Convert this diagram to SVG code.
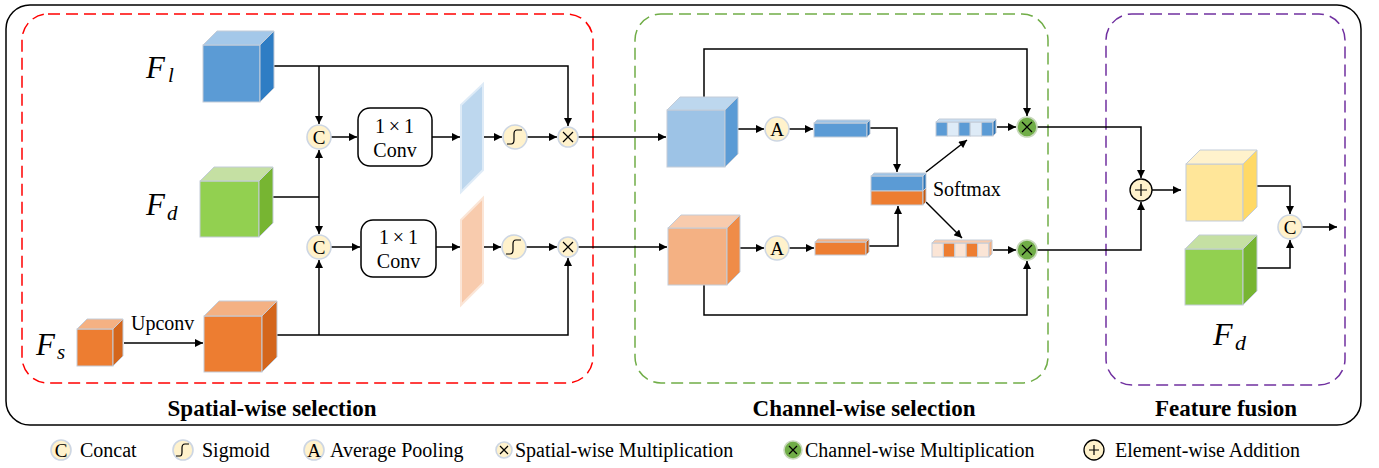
<svg xmlns="http://www.w3.org/2000/svg" width="1379" height="468" viewBox="0 0 1379 468">
<defs>
<style>
.ln{fill:none;stroke:#000;stroke-width:1.5}
.ar{marker-end:url(#ah)}
.op{fill:#FFF2CC;stroke:#CDD6E3;stroke-width:1.6}
.gm{fill:#70AD47;stroke:#C8D8BC;stroke-width:1.6}
.xx{fill:none;stroke:#000;stroke-width:1.2}
.cb{stroke:#C3CCD8;stroke-width:1}
.t{font-family:"Liberation Serif",serif;font-size:20px;fill:#000}
.b{font-family:"Liberation Serif",serif;font-size:23px;font-weight:bold;fill:#000;text-anchor:middle}
.fi{font-family:"Liberation Serif",serif;font-style:italic;fill:#000}
.ct{font-family:"Liberation Serif",serif;font-size:19px;fill:#000;text-anchor:middle}
.box{fill:none;stroke-width:1.5;stroke-dasharray:12 6}
</style>
<marker id="ah" viewBox="0 0 10 10" refX="10" refY="5" markerWidth="9" markerHeight="8" markerUnits="userSpaceOnUse" orient="auto"><path d="M0,0 L10,5 L0,10 z" fill="#000"/></marker>
</defs>
<rect x="0" y="0" width="1379" height="468" fill="#fff"/>

<g id="frames">
<rect x="6" y="5" width="1355" height="420" rx="24" fill="none" stroke="#000" stroke-width="1.5"/>
<rect class="box" x="22" y="14" width="571" height="369" rx="26" stroke="#FF0000"/>
<rect class="box" x="635" y="14" width="413" height="369" rx="26" stroke="#70AD47"/>
<rect class="box" x="1106" y="14" width="239" height="371" rx="26" stroke="#7030A0"/>
<text class="b" x="272" y="416">Spatial-wise selection</text>
<text class="b" x="864" y="416">Channel-wise selection</text>
<text class="b" x="1226" y="416">Feature fusion</text>
</g>

<g id="connectors">
<path class="ln ar" d="M274 66 H568 V126"/>
<path class="ln ar" d="M319 66 V124"/>
<path class="ln" d="M273 197 H319"/>
<path class="ln ar" d="M319 197 V150"/>
<path class="ln ar" d="M319 197 V234"/>
<path class="ln ar" d="M277 335 H568 V258"/>
<path class="ln ar" d="M319 335 V260"/>
<path class="ln ar" d="M124 343 H203"/>
<path class="ln ar" d="M331 137 H357"/>
<path class="ln ar" d="M432 137 H460"/>
<path class="ln ar" d="M484 137 H502"/>
<path class="ln ar" d="M527 137 H557"/>
<path class="ln ar" d="M578 137 H666"/>
<path class="ln ar" d="M331 247 H360"/>
<path class="ln ar" d="M436 247 H460"/>
<path class="ln ar" d="M484 247 H501"/>
<path class="ln ar" d="M526 247 H557"/>
<path class="ln ar" d="M578 247 H667"/>
<path class="ln ar" d="M704 97 V49 H1027 V116"/>
<path class="ln ar" d="M738 129 H764"/>
<path class="ln ar" d="M789 129 H813"/>
<path class="ln ar" d="M870 128 H897 V172"/>
<path class="ln ar" d="M740 248 H764"/>
<path class="ln ar" d="M789 248 H814"/>
<path class="ln ar" d="M869 246 H898 V206"/>
<path class="ln ar" d="M926 172 L967 140"/>
<path class="ln ar" d="M926 202 L962 238"/>
<path class="ln ar" d="M997 127 H1016"/>
<path class="ln ar" d="M993 250 H1016"/>
<path class="ln ar" d="M704 285 V315 H1027 V261"/>
<path class="ln ar" d="M1037 127 H1141 V178"/>
<path class="ln ar" d="M1037 250 H1141 V202"/>
<path class="ln ar" d="M1152 190 H1181"/>
<path class="ln ar" d="M1257 186 H1290 V214"/>
<path class="ln ar" d="M1257 268 H1290 V240"/>
<path class="ln ar" d="M1302 227 H1337"/>
</g>

<g id="Fl">
<rect class="cb" x="203" y="45" width="57" height="57" fill="#5B9BD5"/>
<polygon class="cb" points="203,45 217,31 274,31 260,45" fill="#A4C8E9"/>
<polygon class="cb" points="260,45 274,31 274,88 260,102" fill="#2E7DC4"/>
<text class="fi" x="146" y="78" font-size="31">F</text><text class="fi" x="168" y="82" font-size="21">l</text>
</g>
<g id="Fd">
<rect class="cb" x="200" y="181" width="59" height="56" fill="#92D050"/>
<polygon class="cb" points="200,181 214,167 273,167 259,181" fill="#C5E0A3"/>
<polygon class="cb" points="259,181 273,167 273,223 259,237" fill="#77B532"/>
<text class="fi" x="146" y="215" font-size="31">F</text><text class="fi" x="167" y="220" font-size="21">d</text>
</g>
<g id="Fs">
<rect class="cb" x="77" y="329" width="36" height="37" fill="#ED7D31"/>
<polygon class="cb" points="77,329 87,319 123,319 113,329" fill="#F4B183"/>
<polygon class="cb" points="113,329 123,319 123,356 113,366" fill="#D4661C"/>
<text class="fi" x="36" y="355" font-size="31">F</text><text class="fi" x="57" y="359" font-size="21">s</text>
</g>
<g id="upconv-label"><text class="t" x="131" y="330">Upconv</text></g>
<g id="Fup">
<rect class="cb" x="204" y="316" width="58" height="56" fill="#ED7D31"/>
<polygon class="cb" points="204,316 219,301 277,301 262,316" fill="#F4B183"/>
<polygon class="cb" points="262,316 277,301 277,357 262,372" fill="#D4661C"/>
</g>
<g id="C1"><circle class="op" cx="319" cy="137" r="12"/><text class="ct" x="319" y="143.5">C</text></g>
<g id="C2"><circle class="op" cx="319" cy="247" r="12"/><text class="ct" x="319" y="253.5">C</text></g>
<g id="conv1">
<rect x="358" y="108" width="74" height="58" rx="12" fill="#fff" stroke="#000" stroke-width="1.5"/>
<text class="t" x="375" y="133" textLength="39" lengthAdjust="spacing">1×1</text>
<text class="t" x="395" y="157" text-anchor="middle">Conv</text>
</g>
<g id="conv2">
<rect x="361" y="220" width="75" height="57" rx="12" fill="#fff" stroke="#000" stroke-width="1.5"/>
<text class="t" x="379" y="244" textLength="39" lengthAdjust="spacing">1×1</text>
<text class="t" x="398.5" y="268" text-anchor="middle">Conv</text>
</g>
<g id="map1"><polygon points="461,105 483,84 483,170 461,192" fill="#BDD7EE" stroke="#DEEBF7" stroke-width="2"/></g>
<g id="map2"><polygon points="461,220 483,198 483,283 461,305" fill="#F8CBAD" stroke="#FBE5D6" stroke-width="2"/></g>
<g id="sig1"><circle class="op" cx="515" cy="137" r="12"/><path class="xx" d="M507,144 H511 Q514,144 514,140 V134 Q514,130 517,130 H522" stroke-width="1.6"/></g>
<g id="sig2"><circle class="op" cx="514" cy="247" r="12"/><path class="xx" d="M506,254 H510 Q513,254 513,250 V244 Q513,240 516,240 H521" stroke-width="1.6"/></g>
<g id="mul1"><circle class="op" cx="568" cy="137" r="10"/><path class="xx" d="M563,132 L573,142 M573,132 L563,142"/></g>
<g id="mul2"><circle class="op" cx="568" cy="247" r="10"/><path class="xx" d="M563,242 L573,252 M573,242 L563,252"/></g>

<g id="cubeB">
<rect class="cb" x="667" y="110" width="58" height="57" fill="#9DC3E6"/>
<polygon class="cb" points="667,110 680,97 738,97 725,110" fill="#BDD7EE"/>
<polygon class="cb" points="725,110 738,97 738,154 725,167" fill="#5B9BD5"/>
</g>
<g id="cubeO">
<rect class="cb" x="668" y="228" width="59" height="57" fill="#F4B183"/>
<polygon class="cb" points="668,228 681,215 740,215 727,228" fill="#F8CBAD"/>
<polygon class="cb" points="727,228 740,215 740,272 727,285" fill="#EF8C48"/>
</g>
<g id="A1"><circle class="op" cx="777" cy="129" r="12"/><text class="ct" x="777" y="135.5">A</text></g>
<g id="A2"><circle class="op" cx="777" cy="248" r="12"/><text class="ct" x="777" y="254.5">A</text></g>
<g id="vecB">
<rect class="cb" x="814" y="123" width="53" height="14" fill="#5B9BD5"/>
<polygon class="cb" points="814,123 817,120 870,120 867,123" fill="#9DC3E6"/>
<polygon class="cb" points="867,123 870,120 870,134 867,137" fill="#2E75B6"/>
</g>
<g id="vecO">
<rect class="cb" x="815" y="242" width="51" height="13" fill="#ED7D31"/>
<polygon class="cb" points="815,242 818,239 869,239 866,242" fill="#F4B183"/>
<polygon class="cb" points="866,242 869,239 869,252 866,255" fill="#C55A11"/>
</g>
<g id="stack">
<rect class="cb" x="871" y="176" width="52" height="15" fill="#5B9BD5"/>
<rect class="cb" x="871" y="191" width="52" height="14" fill="#ED7D31"/>
<polygon class="cb" points="871,176 874,173 926,173 923,176" fill="#9DC3E6"/>
<polygon class="cb" points="923,176 926,173 926,188 923,191" fill="#2E75B6"/>
<polygon class="cb" points="923,191 926,188 926,202 923,205" fill="#C55A11"/>
<text class="t" x="933" y="196">Softmax</text>
</g>
<g id="attB">
<rect class="cb" x="936" y="122" width="11.4" height="14" fill="#5B9BD5"/>
<rect class="cb" x="947.4" y="122" width="11.4" height="14" fill="#DEEBF7"/>
<rect class="cb" x="958.8" y="122" width="11.4" height="14" fill="#5B9BD5"/>
<rect class="cb" x="970.2" y="122" width="11.4" height="14" fill="#DEEBF7"/>
<rect class="cb" x="981.6" y="122" width="11.4" height="14" fill="#5B9BD5"/>
<polygon class="cb" points="936,122 939,119 996,119 993,122" fill="#C9DEF2"/>
<polygon class="cb" points="993,122 996,119 996,133 993,136" fill="#2E75B6"/>
</g>
<g id="attO">
<rect class="cb" x="932" y="243" width="11.4" height="14" fill="#FBE5D6"/>
<rect class="cb" x="943.4" y="243" width="11.4" height="14" fill="#ED7D31"/>
<rect class="cb" x="954.8" y="243" width="11.4" height="14" fill="#FBE5D6"/>
<rect class="cb" x="966.2" y="243" width="11.4" height="14" fill="#ED7D31"/>
<rect class="cb" x="977.6" y="243" width="11.4" height="14" fill="#FBE5D6"/>
<polygon class="cb" points="932,243 935,240 992,240 989,243" fill="#F8CBAD"/>
<polygon class="cb" points="989,243 992,240 992,254 989,257" fill="#F4B183"/>
</g>
<g id="cm1"><circle class="gm" cx="1027" cy="127" r="10"/><path class="xx" d="M1022,122 L1032,132 M1032,122 L1022,132"/></g>
<g id="cm2"><circle class="gm" cx="1027" cy="250" r="10"/><path class="xx" d="M1022,245 L1032,255 M1032,245 L1022,255"/></g>

<g id="add"><circle cx="1141" cy="190" r="11" fill="#FFF2CC" stroke="#000" stroke-width="1.3"/><path class="xx" d="M1135,190 H1147 M1141,184 V196" stroke-width="1"/></g>
<g id="cubeY">
<rect class="cb" x="1186" y="164" width="57" height="57" fill="#FFE699"/>
<polygon class="cb" points="1186,164 1200,150 1257,150 1243,164" fill="#FFF2CC"/>
<polygon class="cb" points="1243,164 1257,150 1257,207 1243,221" fill="#FFD966"/>
</g>
<g id="cubeG">
<rect class="cb" x="1185" y="249" width="58" height="56" fill="#92D050"/>
<polygon class="cb" points="1185,249 1199,235 1257,235 1243,249" fill="#C5E0A3"/>
<polygon class="cb" points="1243,249 1257,235 1257,291 1243,305" fill="#77B532"/>
<text class="fi" x="1213" y="345" font-size="32">F</text><text class="fi" x="1235" y="350" font-size="22">d</text>
</g>
<g id="C3"><circle class="op" cx="1290" cy="227" r="12"/><text class="ct" x="1290" y="233.5">C</text></g>

<g id="legend">
<circle class="op" cx="61" cy="450" r="10"/><text class="ct" x="61" y="456.5">C</text>
<text class="t" x="80" y="457">Concat</text>
<circle class="op" cx="183" cy="450" r="10"/><path class="xx" d="M176,456 H180 Q182,456 182,452 V448 Q182,444 185,444 H189" stroke-width="1.6"/>
<text class="t" x="202" y="457">Sigmoid</text>
<circle class="op" cx="314" cy="450" r="10"/><text class="ct" x="314" y="456.5">A</text>
<text class="t" x="330" y="457">Average Pooling</text>
<circle class="op" cx="504" cy="450" r="8"/><path class="xx" d="M500,446 L508,454 M508,446 L500,454"/>
<text class="t" x="515" y="457">Spatial-wise Multiplication</text>
<circle class="gm" cx="793" cy="450" r="9"/><path class="xx" d="M789,446 L797,454 M797,446 L789,454"/>
<text class="t" x="805" y="457">Channel-wise Multiplication</text>
<circle cx="1094" cy="450" r="10" fill="#FFF2CC" stroke="#000" stroke-width="1.3"/><path class="xx" d="M1089,450 H1099 M1094,445 V455" stroke-width="1"/>
<text class="t" x="1115" y="457">Element-wise Addition</text>
</g>
</svg>
